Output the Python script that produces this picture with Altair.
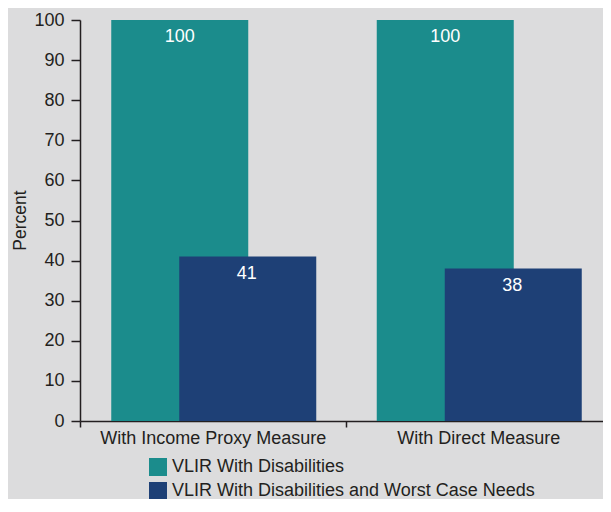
import altair as alt
import pandas as pd

measures = ["With Income Proxy Measure", "With Direct Measure"]
series = ["VLIR With Disabilities", "VLIR With Disabilities and Worst Case Needs"]
vlir_disab = [100, 100]
vlir_worst = [41, 38]
colors = ["#1b8c8c", "#1e4076"]
y_ticks = list(range(0, 101, 10))

df1 = pd.DataFrame({"measure": measures, "series": series[0], "value": vlir_disab})
df2 = pd.DataFrame({"measure": measures, "series": series[1], "value": vlir_worst})

FONT = "Liberation Sans"
TXT = "#231f20"
FS = 18

x = alt.X(
    "measure:N",
    sort=measures,
    scale=alt.Scale(domain=measures, paddingInner=0, paddingOuter=0, range=[0, 531]),
    axis=alt.Axis(
        title=None, labelAngle=0, labelFontSize=FS, labelColor=TXT, labelFont=FONT,
        tickBand="extent", tickSize=6, tickColor=TXT, domainColor=TXT,
        labelPadding=2, domainWidth=1.5, tickWidth=1.5, labelLimit=400,
    ),
)
y = alt.Y(
    "value:Q",
    scale=alt.Scale(domain=[0, 100], nice=False),
    axis=alt.Axis(
        values=y_ticks, title="Percent", grid=False, labelFontSize=FS, labelColor=TXT,
        labelFont=FONT, tickSize=9, tickColor=TXT, domainColor=TXT, domainWidth=1.5,
        tickWidth=1.5, labelPadding=7, titleFont=FONT, titleFontSize=17.5,
        titleFontWeight="normal", titleColor=TXT, titleX=-60, titleY=200,
        titleAngle=270, titleAlign="center", titleBaseline="middle",
    ),
)
color = alt.Color(
    "series:N",
    scale=alt.Scale(domain=series, range=colors),
    legend=alt.Legend(
        title=None, orient="none", legendX=69, legendY=438, symbolType="square",
        symbolSize=324, symbolStrokeWidth=0, symbolOpacity=1, labelFontSize=FS,
        labelFont=FONT, labelColor=TXT, rowPadding=6, labelOffset=5,
        labelLimit=500, padding=0,
    ),
)

bars1 = alt.Chart(df1).mark_bar(width=137, xOffset=-33).encode(x=x, y=y, color=color)
bars2 = alt.Chart(df2).mark_bar(width=137, xOffset=35).encode(x=x, y=y, color=color)
txt1 = alt.Chart(df1).mark_text(
    baseline="top", dy=8, xOffset=-33, color="white", fontSize=FS, font=FONT
).encode(x=x, y=y, text="value:Q")
txt2 = alt.Chart(df2).mark_text(
    baseline="top", dy=8, xOffset=34, color="white", fontSize=FS, font=FONT
).encode(x=x, y=y, text="value:Q")

chart = (
    alt.layer(bars1, bars2, txt1, txt2)
    .properties(
        width=523, height=401,
        autosize=alt.AutoSizeParams(type="none"),
        padding={"left": 72, "top": 12, "right": 0, "bottom": 78},
        background="#dcdcdd",
    )
    .configure_view(stroke=None)
)

chart.save("out.html", embed_options={"renderer": "svg", "actions": False})
